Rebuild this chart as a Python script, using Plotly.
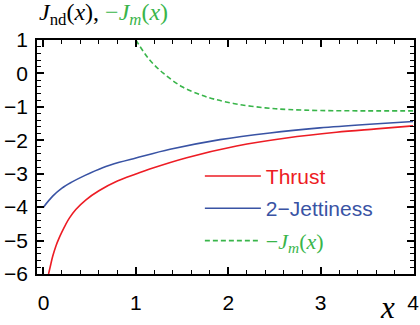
import plotly.graph_objects as go

# Thrust J_nd(x)
thrust_x = [0.055, 0.08, 0.1, 0.135, 0.17, 0.2, 0.24, 0.28, 0.35, 0.46, 0.6, 0.8, 1.0, 1.15, 1.55, 2.09, 2.63, 3.17, 3.6, 4.0]
thrust_y = [-6.0, -5.7, -5.47, -5.16, -4.92, -4.74, -4.52, -4.33, -4.07, -3.78, -3.51, -3.22, -3.01, -2.86,
            -2.52, -2.17, -1.93, -1.76, -1.66, -1.57]

# 2-Jettiness J_nd(x)
jet_x = [0.0, 0.1, 0.2, 0.3, 0.45, 0.64, 0.82, 1.0, 1.37, 1.91, 2.45, 2.99, 3.53, 4.0]
jet_y = [-4.0, -3.67, -3.43, -3.26, -3.05, -2.82, -2.66, -2.53, -2.27, -1.98, -1.78, -1.63, -1.52, -1.44]

# -J_m(x)
jm_x = [1.0, 1.15, 1.3, 1.5, 1.7, 1.85, 2.1, 2.4, 2.65, 3.0, 3.5, 4.0]
jm_y = [1.0, 0.4, 0.0, -0.40, -0.64, -0.77, -0.92, -1.03, -1.08, -1.11, -1.12, -1.12]

x_ticks = [0, 1, 2, 3, 4]
y_ticks = [-6, -5, -4, -3, -2, -1, 0, 1]

RED = "#ED1C24"
BLUE = "#3953A4"
GREEN = "#39B54A"
SERIF = "Liberation Serif"
SANS = "Liberation Sans"

fig = go.Figure()
fig.add_trace(go.Scatter(x=thrust_x, y=thrust_y, mode="lines", line=dict(color=RED, width=1.6, shape="spline"),
                         name=f"<span style='color:{RED}'>Thrust</span>", legendgroup="a"))
fig.add_trace(go.Scatter(x=jet_x, y=jet_y, mode="lines", line=dict(color=BLUE, width=1.6, shape="spline"),
                         name=f"<span style='color:{BLUE}'>2\u2212Jettiness</span>", legendgroup="b"))
fig.add_trace(go.Scatter(x=jm_x, y=jm_y, mode="lines", line=dict(color=GREEN, width=1.6, shape="spline", dash="5px,3px"),
                         name=f"<span style='color:{GREEN};font-family:{SERIF};font-size:22px'>\u2212<i>J</i><sub><i>m</i></sub>(<i>x</i>)</span>",
                         legendgroup="c"))

axis_common = dict(showline=True, linecolor="black", linewidth=1.5, mirror="allticks", ticks="inside",
                   ticklen=7, tickwidth=1.5, tickcolor="black", showgrid=False, zeroline=False,
                   automargin=False, ticklabeloverflow="allow",
                   tickfont=dict(family=SANS, size=21, color="black"))
fig.update_xaxes(range=[-0.07, 4.01], tickvals=x_ticks, ticktext=[str(v) for v in x_ticks],
                 minor=dict(ticks="inside", dtick=0.2, tick0=0, ticklen=4, tickwidth=1.2, tickcolor="black"),
                 ticklabelstandoff=9, **axis_common)
fig.update_yaxes(range=[-6, 1], tickvals=y_ticks, ticktext=[str(v).replace("-", "\u2212") for v in y_ticks],
                 minor=dict(ticks="inside", dtick=0.2, tick0=0, ticklen=4, tickwidth=1.2, tickcolor="black"),
                 ticklabelstandoff=3, **axis_common)

fig.update_layout(
    width=420, height=325,
    margin=dict(l=37, r=6, t=40, b=51),
    paper_bgcolor="white", plot_bgcolor="white",
    showlegend=True,
    legend=dict(x=0.432, y=0.505, xanchor="left", yanchor="top", bgcolor="rgba(0,0,0,0)",
                font=dict(family=SANS, size=21), tracegroupgap=2, itemwidth=56),
    annotations=[
        dict(text=f"<i>J</i><sub>nd</sub>(<i>x</i>), <span style='color:{GREEN}'>\u2212<i>J</i><sub><i>m</i></sub>(<i>x</i>)</span>",
             xref="paper", yref="paper", x=0.0, y=1.0, xanchor="left", yanchor="bottom", yshift=9,
             showarrow=False, font=dict(family=SERIF, size=24, color="black")),
        dict(text="<i>x</i>", xref="paper", yref="paper", x=0.93, y=0, xanchor="center", yanchor="top", yshift=-14,
             showarrow=False, font=dict(family=SERIF, size=31, color="black")),
    ],
)

fig.write_html("out.html", config={"displayModeBar": False},
               post_script="document.body.style.margin='0';document.body.style.padding='0';")
